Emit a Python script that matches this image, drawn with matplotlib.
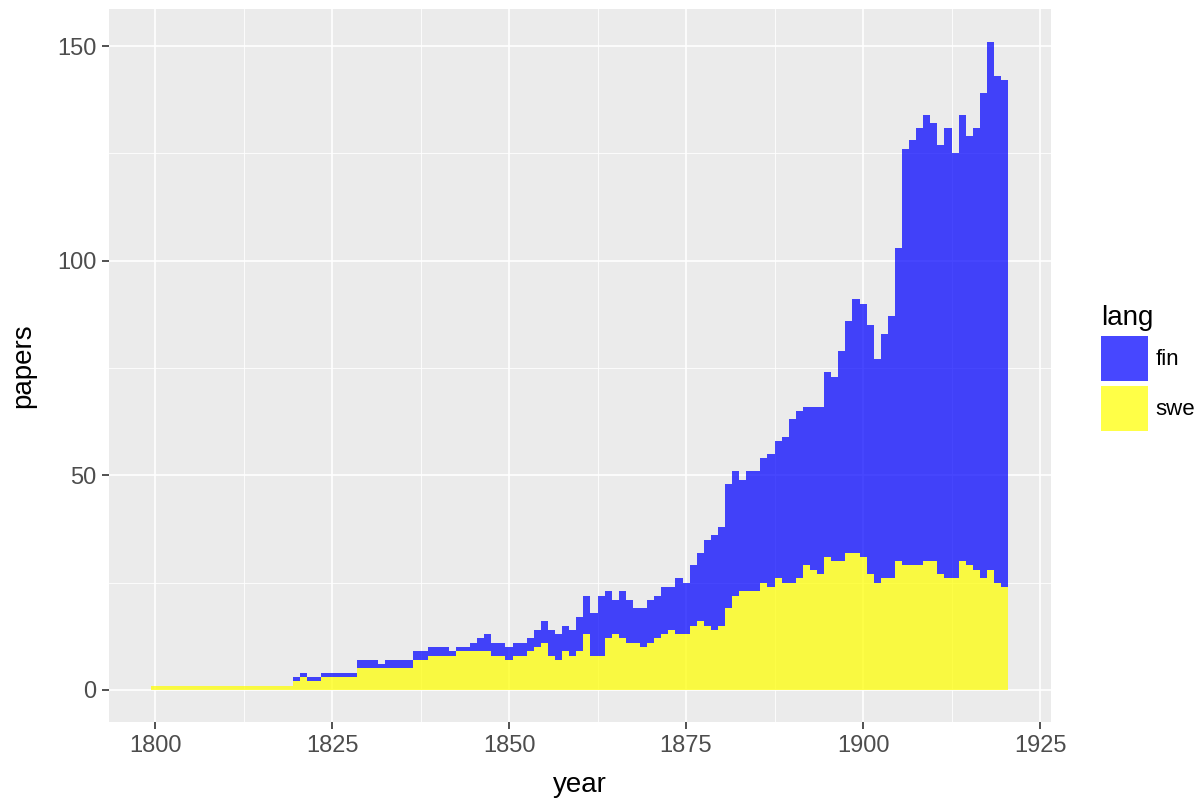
import numpy as np
import matplotlib
matplotlib.use("Agg")
import matplotlib.pyplot as plt
from matplotlib.patches import Patch
from matplotlib.ticker import MultipleLocator

plt.rcParams['font.family'] = ['Liberation Sans', 'DejaVu Sans']

years = list(range(1800, 1921))

swe = [1, 1, 1, 1, 1, 1, 1, 1, 1, 1,
       1, 1, 1, 1, 1, 1, 1, 1, 1, 1,
       2, 3, 2, 2, 3, 3, 3, 3, 3, 5,
       5, 5, 5, 5, 5, 5, 5, 7, 7, 8,
       8, 8, 8, 9, 9, 9, 9, 9, 8, 8,
       7, 8, 8, 9, 10, 11, 8, 7, 9, 8,
       9, 13, 8, 8, 12, 13, 12, 11, 11, 10,
       11, 12, 13, 14, 13, 13, 15, 16, 15, 14,
       15, 19, 22, 23, 23, 23, 25, 24, 26, 25,
       25, 26, 29, 28, 27, 31, 30, 30, 32, 32,
       31, 27, 25, 26, 26, 30, 29, 29, 29, 30,
       30, 27, 26, 26, 30, 29, 28, 26, 28, 25,
       24]

fin = [0, 0, 0, 0, 0, 0, 0, 0, 0, 0,
       0, 0, 0, 0, 0, 0, 0, 0, 0, 0,
       1, 1, 1, 1, 1, 1, 1, 1, 1, 2,
       2, 2, 1, 2, 2, 2, 2, 2, 2, 2,
       2, 2, 1, 1, 1, 2, 3, 4, 3, 3,
       3, 3, 3, 3, 4, 5, 6, 6, 6, 6,
       8, 9, 10, 14, 11, 8, 11, 10, 8, 9,
       10, 10, 11, 10, 13, 12, 14, 16, 20, 22,
       23, 29, 29, 26, 28, 28, 29, 31, 32, 34,
       38, 39, 37, 38, 39, 43, 43, 49, 54, 59,
       59, 58, 52, 57, 61, 73, 97, 99, 102, 104,
       102, 100, 105, 99, 104, 100, 103, 113, 123, 118,
       118]

langs = ['fin', 'swe']
colors = {'fin': '#0000FF', 'swe': '#FFFF00'}
alpha = 0.72
panel_bg = '#EBEBEB'

fig = plt.figure(figsize=(12.03, 8.02), dpi=100)
ax = fig.add_axes([0.0903, 0.0993, 0.7834, 0.8891])
ax.set_facecolor(panel_bg)

# stacked bars: swe at the bottom, fin on top
ax.bar(years, swe, width=1.0, color=colors['swe'], alpha=alpha, linewidth=0, zorder=2)
ax.bar(years, fin, width=1.0, bottom=swe, color=colors['fin'], alpha=alpha, linewidth=0, zorder=2)

total = np.array(swe) + np.array(fin)
x0, x1 = years[0] - 0.5, years[-1] + 0.5
xr = x1 - x0
ax.set_xlim(x0 - 0.05 * xr, x1 + 0.05 * xr)
ax.set_ylim(-0.05 * total.max(), 1.05 * total.max())

ax.xaxis.set_major_locator(MultipleLocator(25))
ax.xaxis.set_minor_locator(MultipleLocator(12.5))
ax.yaxis.set_major_locator(MultipleLocator(50))
ax.yaxis.set_minor_locator(MultipleLocator(25))

ax.grid(which='major', color='white', linewidth=1.2, zorder=1)
ax.grid(which='minor', color='white', linewidth=0.6, zorder=1)
ax.set_axisbelow(True)

for s in ax.spines.values():
    s.set_visible(False)

ax.tick_params(which='major', length=5, width=1.2, color='#333333',
               labelsize=17, labelcolor='#4D4D4D', pad=4)
ax.tick_params(which='minor', length=0)

ax.set_xlabel('year', fontsize=20, labelpad=11)
ax.set_ylabel('papers', fontsize=20, labelpad=15)

handles = [Patch(facecolor=colors[l], alpha=alpha, edgecolor='none') for l in langs]
leg = ax.legend(handles, langs, loc='upper left', bbox_to_anchor=(0.906, 0.633),
                bbox_transform=fig.transFigure, frameon=False, title='lang',
                fontsize=16, title_fontsize=20, handlelength=2.1, handleheight=2.74,
                labelspacing=0.21, handletextpad=0.35, borderpad=0, alignment='left')

fig.savefig('out.png', dpi=100)
